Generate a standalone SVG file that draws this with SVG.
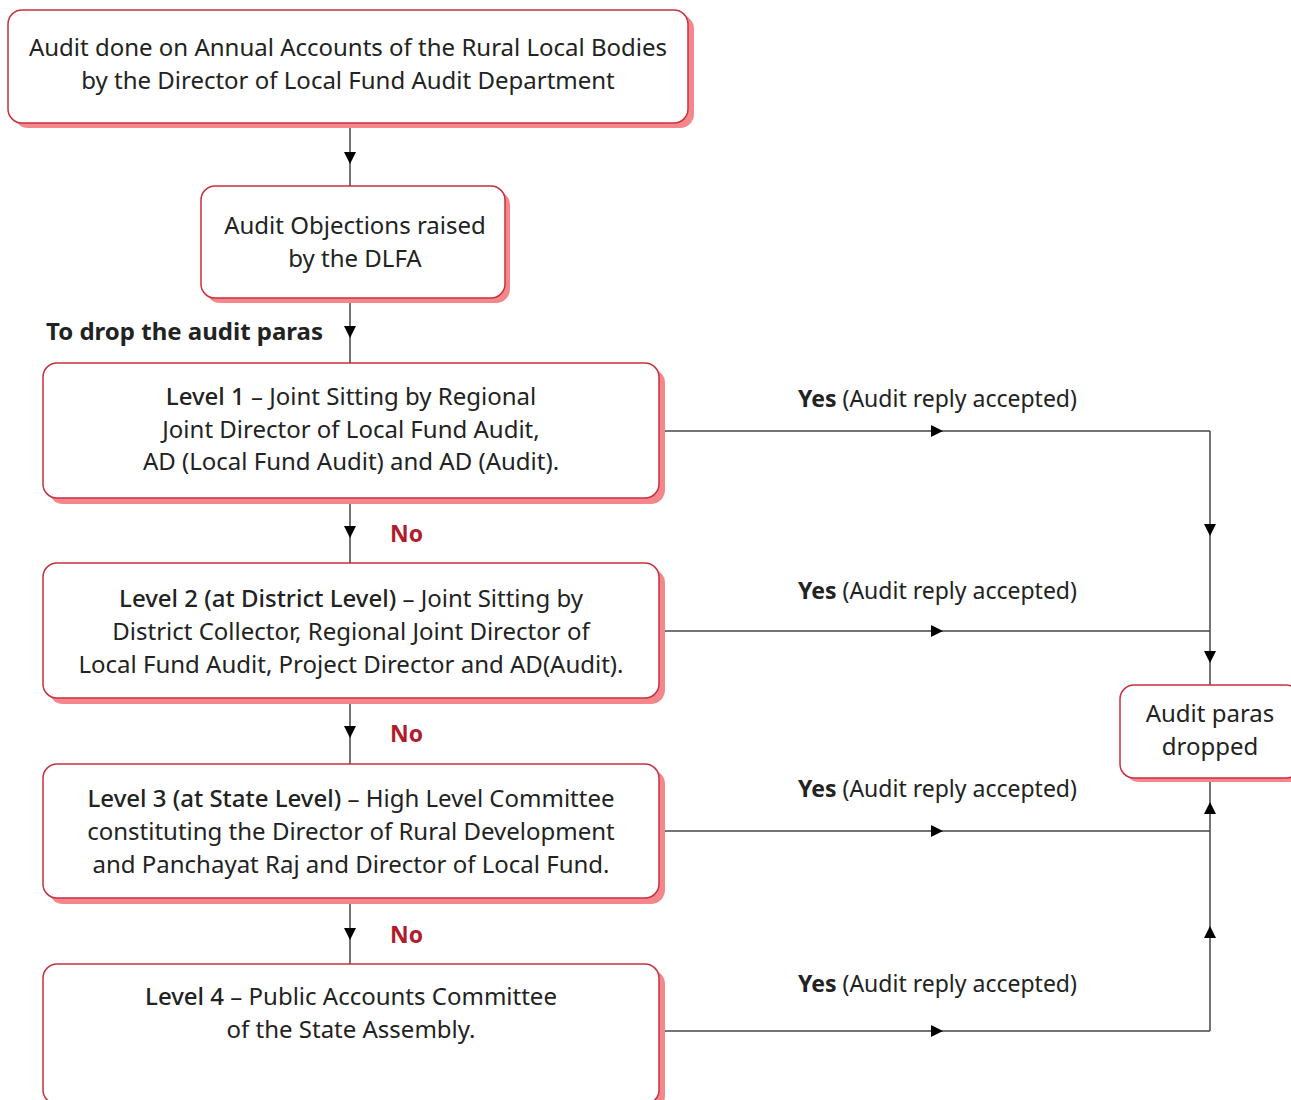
<svg xmlns="http://www.w3.org/2000/svg" width="1291" height="1100" viewBox="0 0 1291 1100">
  <style>
    .box { fill: #ffffff; stroke: #c8313f; stroke-width: 1.5; }
    .shadow { fill: #f4878c; }
    .t { font-family: "Noto Sans", "Liberation Sans", sans-serif; font-size: 24px; fill: #222222; text-anchor: middle; }
    .b { font-weight: 500; }
    .lbl { font-family: "Noto Sans", "Liberation Sans", sans-serif; font-size: 23px; fill: #222222; }
    .no { font-family: "Noto Sans", "Liberation Sans", sans-serif; font-size: 23px; font-weight: 700; fill: #b01c2e; }
    .c { fill: none; stroke: #444444; stroke-width: 1.5; marker-mid: url(#arrow); }
  </style>
  <defs>
    <marker id="arrow" viewBox="0 0 12 12" refX="12" refY="6" markerWidth="12" markerHeight="12" markerUnits="userSpaceOnUse" orient="auto">
      <path d="M0,0 L12,6 L0,12 Z" fill="#000000"/>
    </marker>
  </defs>
  <rect width="1291" height="1100" fill="#ffffff"/>

  <!-- connectors -->
  <g id="connectors">
    <path class="c" d="M350,123 L350,164 L350,186"/>
    <path class="c" d="M350,298 L350,338 L350,363"/>
    <path class="c" d="M350,498 L350,538 L350,563"/>
    <path class="c" d="M350,698 L350,738 L350,764"/>
    <path class="c" d="M350,898 L350,940 L350,964"/>
    <path class="c" d="M665,431 L943,431 L1210,431"/>
    <path class="c" d="M665,631 L943,631 L1210,631"/>
    <path class="c" d="M665,831 L943,831 L1210,831"/>
    <path class="c" d="M665,1031 L943,1031 L1210,1031"/>
    <path class="c" d="M1210,431 L1210,536 L1210,631"/>
    <path class="c" d="M1210,631 L1210,663 L1210,685"/>
    <path class="c" d="M1210,831 L1210,802 L1210,782"/>
    <path class="c" d="M1210,1031 L1210,926 L1210,831"/>
  </g>

  <!-- labels -->
  <g id="labels">
    <text class="lbl" x="46" y="340" style="font-weight:700;font-size:24px">To drop the audit paras</text>
    <text class="no" x="390" y="542">No</text>
    <text class="no" x="390" y="742">No</text>
    <text class="no" x="390" y="943">No</text>
    <text class="lbl" x="798" y="407"><tspan font-weight="700">Yes</tspan> (Audit reply accepted)</text>
    <text class="lbl" x="798" y="599"><tspan font-weight="700">Yes</tspan> (Audit reply accepted)</text>
    <text class="lbl" x="798" y="797"><tspan font-weight="700">Yes</tspan> (Audit reply accepted)</text>
    <text class="lbl" x="798" y="992"><tspan font-weight="700">Yes</tspan> (Audit reply accepted)</text>
  </g>

  <g id="node-audit">
    <rect class="shadow" x="14" y="15" width="680" height="113" rx="14"/>
    <rect class="box" x="8" y="10" width="680" height="113" rx="14"/>
    <text class="t" x="348" y="56">Audit done on Annual Accounts of the Rural Local Bodies</text>
    <text class="t" x="348" y="89">by the Director of Local Fund Audit Department</text>
  </g>

  <g id="node-objections">
    <rect class="shadow" x="206" y="191" width="304" height="112" rx="14"/>
    <rect class="box" x="201" y="186" width="304" height="112" rx="14"/>
    <text class="t" x="355" y="234">Audit Objections raised</text>
    <text class="t" x="355" y="267">by the DLFA</text>
  </g>

  <g id="node-level1">
    <rect class="shadow" x="49" y="369" width="616" height="135" rx="14"/>
    <rect class="box" x="43" y="363" width="616" height="135" rx="14"/>
    <text class="t" x="351" y="405"><tspan class="b">Level 1</tspan> – Joint Sitting by Regional</text>
    <text class="t" x="351" y="438">Joint Director of Local Fund Audit,</text>
    <text class="t" x="351" y="470">AD (Local Fund Audit) and AD (Audit).</text>
  </g>

  <g id="node-level2">
    <rect class="shadow" x="49" y="569" width="616" height="135" rx="14"/>
    <rect class="box" x="43" y="563" width="616" height="135" rx="14"/>
    <text class="t" x="351" y="607"><tspan class="b">Level 2 (at District Level)</tspan> – Joint Sitting by</text>
    <text class="t" x="351" y="640">District Collector, Regional Joint Director of</text>
    <text class="t" x="351" y="673">Local Fund Audit, Project Director and AD(Audit).</text>
  </g>

  <g id="node-level3">
    <rect class="shadow" x="49" y="770" width="616" height="134" rx="14"/>
    <rect class="box" x="43" y="764" width="616" height="134" rx="14"/>
    <text class="t" x="351" y="807"><tspan class="b">Level 3 (at State Level)</tspan> – High Level Committee</text>
    <text class="t" x="351" y="840">constituting the Director of Rural Development</text>
    <text class="t" x="351" y="873">and Panchayat Raj and Director of Local Fund.</text>
  </g>

  <g id="node-level4">
    <rect class="shadow" x="49" y="970" width="616" height="140" rx="14"/>
    <rect class="box" x="43" y="964" width="616" height="140" rx="14"/>
    <text class="t" x="351" y="1005"><tspan class="b">Level 4</tspan> – Public Accounts Committee</text>
    <text class="t" x="351" y="1038">of the State Assembly.</text>
  </g>

  <g id="node-dropped">
    <rect class="shadow" x="1125" y="690" width="180" height="92" rx="14"/>
    <rect class="box" x="1120" y="685" width="180" height="93" rx="14"/>
    <text class="t" x="1210" y="722">Audit paras</text>
    <text class="t" x="1210" y="755">dropped</text>
  </g>
</svg>
